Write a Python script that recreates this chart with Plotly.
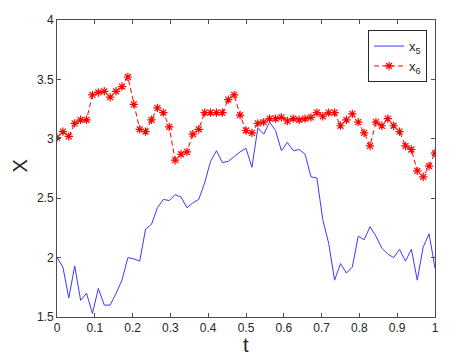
import numpy as np
import plotly.graph_objects as go

# t = 0 : 1/64 : 1
t = np.linspace(0, 1, 65)

x5 = [2.00, 1.92, 1.66, 1.93, 1.64, 1.70, 1.53, 1.74, 1.60, 1.60,
      1.70, 1.81, 2.00, 1.99, 1.97, 2.24, 2.28, 2.42, 2.49, 2.48,
      2.53, 2.51, 2.42, 2.46, 2.49, 2.63, 2.81, 2.90, 2.80, 2.81,
      2.85, 2.89, 2.92, 2.76, 3.09, 3.04, 3.14, 3.07, 2.90, 2.97,
      2.90, 2.91, 2.87, 2.68, 2.67, 2.32, 2.12, 1.81, 1.95, 1.87,
      1.92, 2.18, 2.15, 2.26, 2.18, 2.08, 2.03, 2.00, 2.07, 1.97,
      2.07, 1.81, 2.09, 2.20, 1.91]

x6 = [3.01, 3.06, 3.02, 3.13, 3.16, 3.16, 3.37, 3.39, 3.40, 3.35,
      3.40, 3.44, 3.52, 3.29, 3.08, 3.06, 3.16, 3.26, 3.22, 3.10,
      2.82, 2.87, 2.89, 3.04, 3.08, 3.22, 3.22, 3.22, 3.22, 3.33,
      3.37, 3.20, 3.07, 3.05, 3.13, 3.14, 3.17, 3.17, 3.18, 3.15,
      3.17, 3.16, 3.17, 3.18, 3.22, 3.19, 3.22, 3.22, 3.11, 3.16,
      3.21, 3.14, 3.05, 2.94, 3.14, 3.11, 3.17, 3.11, 3.06, 2.94,
      2.91, 2.73, 2.68, 2.77, 2.88]

x_ticks = [0, 0.1, 0.2, 0.3, 0.4, 0.5, 0.6, 0.7, 0.8, 0.9, 1]
x_labels = ["0", "0.1", "0.2", "0.3", "0.4", "0.5", "0.6", "0.7", "0.8", "0.9", "1"]
y_ticks = [1.5, 2, 2.5, 3, 3.5, 4]
y_labels = ["1.5", "2", "2.5", "3", "3.5", "4"]

axis_col = "#4d4d4d"
font = "Liberation Sans, Arial, sans-serif"

fig = go.Figure()
fig.add_trace(go.Scatter(
    x=t, y=x5, mode="lines", name="x<sub>5</sub>",
    line=dict(color="#3a3aff", width=1),
))
fig.add_trace(go.Scatter(
    x=t, y=x6, mode="lines+markers", name="x<sub>6</sub>",
    line=dict(color="#ff0000", width=1, dash="5px,3px"),
    marker=dict(symbol="asterisk-open", size=7,
                line=dict(color="#ff0000", width=1.2)),
))

axis_common = dict(
    showgrid=False, zeroline=False, showline=True, linecolor=axis_col,
    linewidth=1, mirror="ticks", ticks="inside", ticklen=4,
    tickcolor=axis_col, tickfont=dict(family=font, size=12, color="#262626"),
    automargin=False,
)

# page body has an 8px default margin, so the figure is 8px smaller
fig.update_layout(
    width=453, height=351,
    paper_bgcolor="white", plot_bgcolor="white",
    margin=dict(l=49, r=26, t=12, b=42),
    font=dict(family=font, color="#262626"),
    xaxis=dict(range=[0, 1], tickvals=x_ticks, ticktext=x_labels, **axis_common),
    yaxis=dict(range=[1.5, 4], tickvals=y_ticks, ticktext=y_labels, **axis_common),
    showlegend=True,
    legend=dict(x=0.979, y=0.966, xanchor="right", yanchor="top",
                bgcolor="white", bordercolor="#262626", borderwidth=1,
                font=dict(size=13, family=font), itemwidth=30,
                tracegroupgap=0),
    annotations=[
        dict(text="t", x=0.5, y=-0.094, xref="paper", yref="paper",
             showarrow=False, xanchor="center", yanchor="middle",
             font=dict(size=20, color="#262626")),
        dict(text="X", x=-0.098, y=0.51, xref="paper", yref="paper",
             showarrow=False, xanchor="center", yanchor="middle", textangle=-90,
             font=dict(size=20, color="#262626")),
    ],
)

fig.write_html("out.html")
